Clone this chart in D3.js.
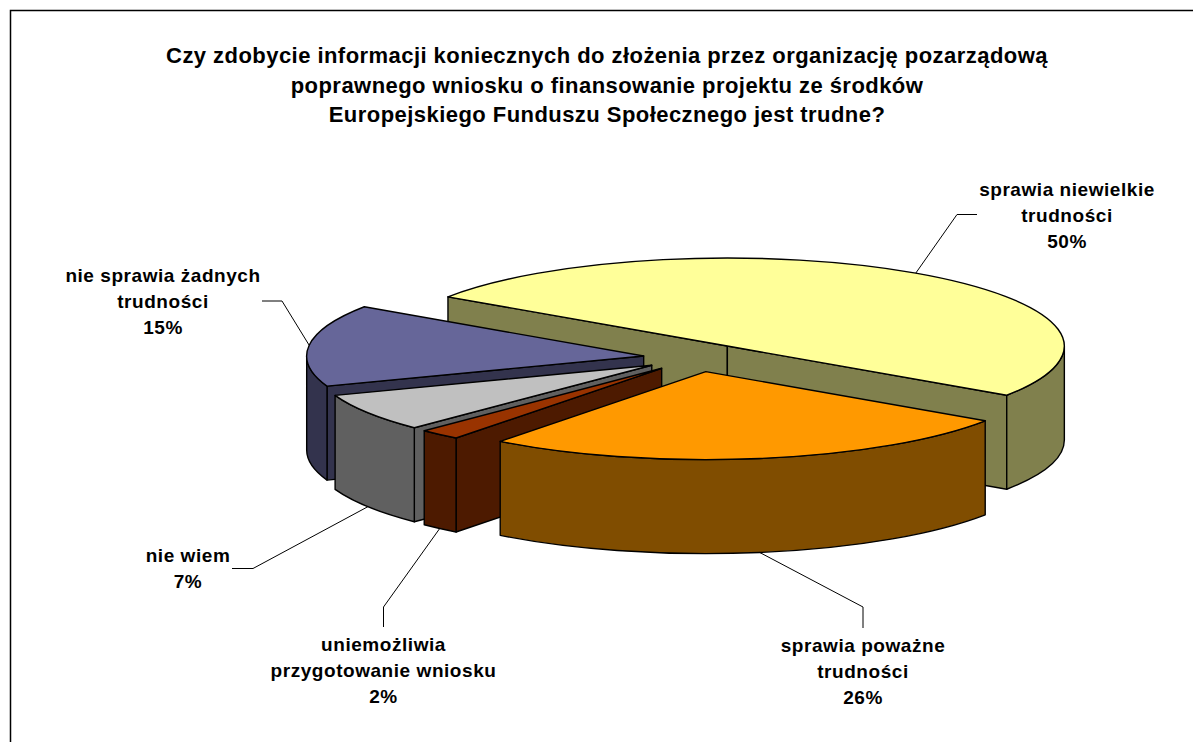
<!DOCTYPE html>
<html lang="pl">
<head>
<meta charset="utf-8">
<title>Wykres kołowy</title>
<script src="https://cdn.jsdelivr.net/npm/d3@7/dist/d3.min.js"></script>
<style>
html,body{margin:0;padding:0;background:#fff;overflow:hidden}
svg{display:block}
text{font-family:"Liberation Sans",Arial,sans-serif;font-weight:bold;fill:#000;text-anchor:middle}
</style>
</head>
<body>
<svg id="chart" width="1193" height="742"></svg>
<script>
// Data, in the chart's clockwise order
const categories = ["sprawia niewielkie trudności", "sprawia poważne trudności", "uniemożliwia przygotowanie wniosku", "nie wiem", "nie sprawia żadnych trudności"];
const values = [50, 26, 2, 7, 15];
const topColors = ["#FFFF99", "#FF9900", "#993300", "#C0C0C0", "#666699"];
const sideColors = ["#80804D", "#804D00", "#4D1A00", "#606060", "#33334D"];
const labelLines = [
  ["sprawia niewielkie", "trudności", "50%"],
  ["sprawia poważne", "trudności", "26%"],
  ["uniemożliwia", "przygotowanie wniosku", "2%"],
  ["nie wiem", "7%"],
  ["nie sprawia żadnych", "trudności", "15%"]
];
const titleLines = [
  "Czy zdobycie informacji koniecznych do złożenia przez organizację pozarządową",
  "poprawnego wniosku o finansowanie projektu ze środków",
  "Europejskiego Funduszu Społecznego jest trudne?"
];

// Layout
const W = 1193, H = 742;
const base = {x: 697.2, y: 357.7};
const rx = 337, ry = 88, depth = 94, explode = 0.16;
const startDeg = -56;
const labelLayout = [
  {cx: 1067, y: 196, elbow: [957, 214.5], end: [977, 214.5], front: false},
  {cx: 863,  y: 652, elbow: [863, 607],   end: [863, 628],   front: true},
  {cx: 383.5,y: 651, elbow: [383.5, 607], end: [383.5, 627], front: true},
  {cx: 188,  y: 562, elbow: [253, 568.5], end: [232, 568.5], front: true},
  {cx: 163,  y: 282, elbow: [282, 301],   end: [262, 301],   front: false}
];

const svg = d3.select("#chart");
const rad = Math.PI / 180;

svg.append("path")
  .attr("d", `M10.5,${H + 5}V10.5H${W + 5}`)
  .attr("fill", "none").attr("stroke", "#000").attr("stroke-width", 1.5);

const title = svg.append("g");
titleLines.forEach((t, i) => {
  title.append("text").attr("x", 607).attr("y", 63 + i * 29.5)
    .attr("font-size", 22).attr("letter-spacing", 0.45).text(t);
});

const pie = d3.pie().sort(null).value(d => d)
  .startAngle(startDeg * rad).endAngle((startDeg + 360) * rad);
const arcs = pie(values).map((d, i) => {
  const mid = (d.startAngle + d.endAngle) / 2;
  return {
    i, a0: d.startAngle, a1: d.endAngle, mid,
    cx: base.x + explode * rx * Math.sin(mid),
    cy: base.y - explode * ry * Math.cos(mid)
  };
});
const pt = (s, a, dz = 0) => [s.cx + rx * Math.sin(a), s.cy - ry * Math.cos(a) + dz];
const arcTo = (p, large, sweep) => `A${rx},${ry} 0 ${large} ${sweep} ${p[0]},${p[1]}`;

function topPath(s) {
  const p0 = pt(s, s.a0), p1 = pt(s, s.a1);
  const large = (s.a1 - s.a0) > Math.PI + 1e-6 ? 1 : 0;
  return `M${s.cx},${s.cy}L${p0[0]},${p0[1]}${arcTo(p1, large, 1)}Z`;
}
function facePath(s, a) {
  const p = pt(s, a);
  return `M${s.cx},${s.cy}L${p[0]},${p[1]}V${p[1] + depth}L${s.cx},${s.cy + depth}Z`;
}
function wallPath(s) {
  const lo = Math.max(s.a0, 90 * rad), hi = Math.min(s.a1, 270 * rad);
  if (hi <= lo) return null;
  const p0 = pt(s, lo), p1 = pt(s, hi), q1 = pt(s, hi, depth), q0 = pt(s, lo, depth);
  return `M${p0[0]},${p0[1]}${arcTo(p1, 0, 1)}L${q1[0]},${q1[1]}${arcTo(q0, 0, 0)}Z`;
}

// Back to front: yellow, purple, grey, brown, orange
const order = [0, 4, 3, 2, 1];
const pieG = svg.append("g").attr("stroke", "#000").attr("stroke-width", 1.4).attr("stroke-linejoin", "round");
order.forEach(k => {
  const s = arcs[k];
  const g = pieG.append("g");
  if (Math.sin(s.a0) < 0) g.append("path").attr("d", facePath(s, s.a0)).attr("fill", sideColors[k]);
  if (Math.sin(s.a1) > 0) g.append("path").attr("d", facePath(s, s.a1)).attr("fill", sideColors[k]);
  const w = wallPath(s);
  if (w) g.append("path").attr("d", w).attr("fill", sideColors[k]);
  g.append("path").attr("d", topPath(s)).attr("fill", topColors[k]);
});

// Leaders and labels
const leader = d3.line();
arcs.forEach(s => {
  const L = labelLayout[s.i];
  const start = pt(s, s.mid, L.front ? depth : 0);
  svg.append("path").attr("d", leader([start, L.elbow, L.end]))
    .attr("fill", "none").attr("stroke", "#000").attr("stroke-width", 1);
  labelLines[s.i].forEach((t, j) => {
    svg.append("text").attr("x", L.cx).attr("y", L.y + j * 26)
      .attr("font-size", 19).attr("letter-spacing", 0.55).text(t);
  });
});
</script>
</body>
</html>
